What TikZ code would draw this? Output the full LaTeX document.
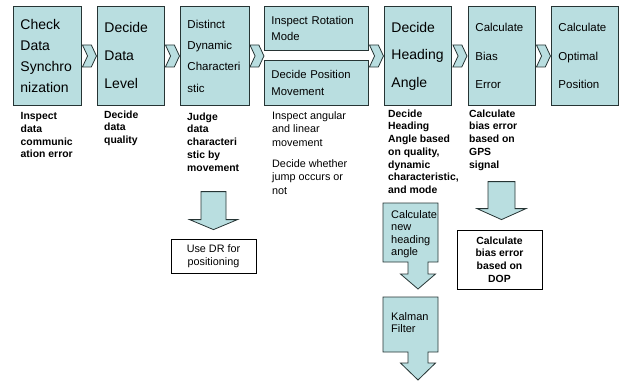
\documentclass[tikz,border=0pt]{standalone}
\usepackage{fontspec}
\setmainfont{Liberation Sans}
\usetikzlibrary{shapes.symbols,calc}

\definecolor{boxfill}{RGB}{185,222,224}
\definecolor{boxline}{RGB}{38,52,52}

\tikzset{
    stage/.style={draw=boxline, fill=boxfill, line width=0.9pt, anchor=north west,
        inner sep=0pt, inner xsep=7pt, align=left},
    chev/.style={signal, signal from=west, signal to=east, signal pointer angle=130,
        draw=boxline, fill=boxfill, line width=0.8pt, minimum width=14pt,
        minimum height=22pt, inner sep=0pt},
    blockarrow/.style={draw=boxline, fill=boxfill, line width=0.8pt, line join=miter},
    note/.style={anchor=north west, inner sep=0pt, align=left,
        font=\fontsize{10.4}{12.7}\selectfont\bfseries},
    plainnote/.style={anchor=north west, inner sep=0pt, align=left,
        font=\fontsize{10.8}{13.5}\selectfont},
    plainbox/.style={draw=black, line width=0.8pt, inner sep=0pt, align=center}
}

\begin{document}
\begin{tikzpicture}[x=1pt, y=-1pt]

            \useasboundingbox (0,0) rectangle (625,381);

            \node[stage, minimum width=68pt, minimum height=99pt, text width=54pt,
                font=\fontsize{14}{20.7}\selectfont] (b1) at (13,6)
                {Check\\Data\\Synchro\\nization};
            \node[stage, minimum width=67pt, minimum height=99pt, text width=53pt,
                font=\fontsize{14}{28}\selectfont] (b2) at (97,6)
                {Decide\\Data\\Level};
            \node[stage, minimum width=69pt, minimum height=99pt, text width=55pt,
                font=\fontsize{11.5}{21.3}\selectfont] (b3) at (180,6)
                {Distinct\\Dynamic\\Characteri\\stic};
            \node[stage, minimum width=104pt, minimum height=44pt, text width=90pt,
                font=\fontsize{11.3}{16.5}\selectfont] (b4a) at (264,6)
                {Inspect Rotation\\Mode};
            \node[stage, minimum width=104pt, minimum height=45pt, text width=90pt,
                font=\fontsize{11.3}{16.5}\selectfont] (b4b) at (264,60)
                {Decide Position\\Movement};
            \node[stage, minimum width=67pt, minimum height=99pt, text width=53pt,
                font=\fontsize{14}{27.5}\selectfont] (b5) at (384,6)
                {Decide\\Heading\\Angle};
            \node[stage, minimum width=67pt, minimum height=99pt, text width=53pt,
                font=\fontsize{11.5}{28.5}\selectfont] (b6) at (468,6)
                {Calculate\\Bias\\Error};
            \node[stage, minimum width=67pt, minimum height=99pt, text width=53pt,
                font=\fontsize{11.5}{28.5}\selectfont] (b7) at (551,6)
                {Calculate\\Optimal\\Position};

            \node[chev] (c12) at ($(b1.east)!0.5!(b2.west)$) {};
            \node[chev] (c23) at ($(b2.east)!0.5!(b3.west)$) {};
            \node[chev] (c34) at ($(b3.east)!0.5!(b3.east -| b4a.west)$) {};
            \node[chev] (c45) at ($(b5.west -| b4a.east)!0.5!(b5.west)$) {};
            \node[chev] (c56) at ($(b5.east)!0.5!(b6.west)$) {};
            \node[chev] (c67) at ($(b6.east)!0.5!(b7.west)$) {};

            \node[note] (n1) at (20.5,112.5) {Inspect\\data\\communic\\ation error};
            \node[note] (n2) at (104,110.5) {Decide\\data\\quality};
            \node[note] (n3) at (187,112.5) {Judge\\data\\characteri\\stic by\\movement};
            \node[plainnote] (n4a) at (272,111) {Inspect angular\\and linear\\movement};
            \node[plainnote] (n4b) at (272,159) {Decide whether\\jump occurs or\\not};
            \node[note] (n5) at (388,109.5)
                {Decide\\Heading\\Angle based\\on quality,\\dynamic\\characteristic,\\and mode};
            \node[note] (n6) at (469,109.5) {Calculate\\bias error\\based on\\GPS\\signal};

            \node[plainbox, minimum width=85pt, minimum height=34pt,
                font=\fontsize{10.8}{12.5}\selectfont] (dr) at (213.5,256)
                {Use DR for\\positioning};
            \node[plainbox, minimum width=85pt, minimum height=59pt,
                font=\fontsize{10.4}{12.7}\selectfont\bfseries] (dop) at (499.5,259.5)
                {Calculate\\bias error\\based on\\DOP};

            \draw[blockarrow] ([yshift=9pt]dr.north) -- ++(24,-10) -- ++(-11.5,0)
                -- ++(0,-28) -- ++(-25,0) -- ++(0,28) -- ++(-11.5,0) -- cycle;
            \draw[blockarrow] ([xshift=2pt,yshift=10pt]dop.north) -- ++(24.5,-11) -- ++(-11,0)
                -- ++(0,-27) -- ++(-27,0) -- ++(0,27) -- ++(-11,0) -- cycle;

            \coordinate (k1) at (383,203);
            \coordinate (k2) at (383,297);
            \draw[blockarrow] (k1) -- ++(55,0) -- ++(0,59) -- ++(-10,0) -- ++(0,12)
                -- ++(7.5,0) -- ++(-17.5,15) -- ++(-17.5,-15) -- ++(7.5,0)
                -- ++(0,-12) -- ++(-25,0) -- cycle;
            \draw[blockarrow] (k2) -- ++(55,0) -- ++(0,55) -- ++(-10,0) -- ++(0,11)
                -- ++(7.5,0) -- ++(-17.5,17) -- ++(-17.5,-17) -- ++(7.5,0)
                -- ++(0,-11) -- ++(-25,0) -- cycle;

            \node[plainnote, font=\fontsize{11}{12.5}\selectfont] (newangle) at (391,210)
                {Calculate\\new\\heading\\angle};
            \node[plainnote, font=\fontsize{11}{12.5}\selectfont] (kalman) at (391,312)
                {Kalman\\Filter};

\end{tikzpicture}
\end{document}
